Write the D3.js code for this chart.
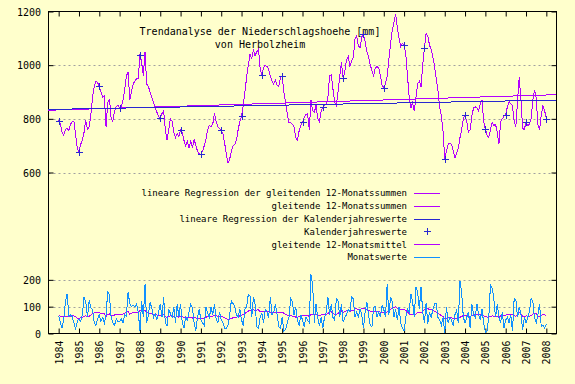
<!DOCTYPE html>
<html>
<head>
<meta charset="utf-8">
<script src="https://cdn.jsdelivr.net/npm/d3@7/dist/d3.min.js"></script>
<style>
    body { margin: 0; background: #ffffcc; }
    svg { display: block; font-family: 'DejaVu Sans Mono', monospace; font-size: 10px; }
</style>
</head>
<body>
<svg id="chart" width="575" height="384"></svg>
<script>
// year ticks on the x axis (also the positions of the calendar-year crosses)
const yearTicks = [1984, 1985, 1986, 1987, 1988, 1989, 1990, 1991, 1992, 1993, 1994, 1995, 1996,
    1997, 1998, 1999, 2000, 2001, 2002, 2003, 2004, 2005, 2006, 2007, 2008]

const yTicks = [0, 100, 200, 600, 800, 1000, 1200]
const gridTicks = [100, 200, 600, 800, 1000]

// Kalenderjahreswerte (mm)
const calendarTotals = [793, 678, 922, 840, 1038, 802, 758, 668, 758, 810, 962, 960, 787,
    844, 952, 1115, 916, 1077, 1064, 652, 815, 761, 816, 788, 800]

// gleitende 12-Monatssummen, monthly from Jan 1984 to Jan 2008 (mm)
const movingSums = [
    795, 780, 750, 740, 760, 765, 755, 780, 790, 790, 740, 690,
    678, 705, 720, 750, 795, 760, 770, 815, 880, 920, 940, 935,
    922, 900, 880, 885, 770, 860, 875, 800, 790, 830, 845, 850,
    840, 845, 870, 910, 960, 975, 870, 900, 930, 940, 950, 950,
    1040, 1010, 960, 1050, 930, 920, 900, 880, 860, 840, 825, 810,
    802, 820, 830, 760, 720, 760, 800, 790, 750, 730, 745, 735,
    758, 750, 720, 700, 715, 690, 720, 690, 725, 700, 680, 670,
    668, 680, 700, 725, 760, 775, 770, 780, 820, 790, 770, 765,
    758, 745, 710, 670, 635, 650, 680, 700, 705, 720, 760, 790,
    810, 850, 900, 955, 1000, 1040, 1025, 1055, 1035, 1050, 1060, 985,
    962, 990, 1000, 995, 985, 960, 940, 930, 945, 925, 920, 955,
    960, 900, 860, 820, 785, 785, 780, 770, 730, 720, 755, 775,
    787, 805, 815, 820, 760, 870, 830, 825, 850, 800, 790, 830,
    844, 850, 855, 880, 960, 965, 910, 860, 850, 900, 960, 1010,
    952, 977, 1020, 1033, 995, 1015, 1030, 1096, 1110, 1071, 1065, 1105,
    1115, 1088, 1051, 1030, 1001, 980, 960, 990, 995, 990, 960, 925,
    916, 930, 960, 1020, 1080, 1130, 1160, 1190, 1140, 1100, 1070, 1080,
    1077, 1040, 960, 880, 840, 860, 830, 880, 930, 940, 920, 1000,
    1064, 1120, 1108, 1075, 1058, 1030, 995, 950, 905, 845, 812, 753,
    652, 680, 705, 710, 705, 680, 655, 670, 690, 730, 760, 800,
    815, 790, 750, 760, 810, 840, 845, 840, 830, 855, 870, 790,
    761, 740, 730, 760, 785, 775, 780, 750, 705, 790, 800, 810,
    816, 845, 865, 855, 850, 790, 770, 870, 955, 870, 765, 760,
    788, 775, 780, 800, 870, 908, 880, 780, 760, 815, 850, 830,
    800
]

// Monatswerte, Jan 1984 to Jan 2008 (mm)
const monthlyValues = [
    65, 40, 22, 50, 120, 148, 65, 70, 62, 40, 15, 45,
    55, 45, 70, 136, 118, 60, 123, 95, 90, 40, 30, 55,
    70, 45, 60, 40, 70, 158, 142, 60, 40, 30, 55, 45,
    45, 55, 40, 70, 65, 155, 110, 100, 105, 100, 110, 80,
    10, 120, 60, 183, 40, 70, 115, 95, 60, 75, 50, 80,
    110, 60, 136, 40, 30, 90, 75, 60, 100, 40, 110, 60,
    110, 40, 20, 60, 50, 80, 110, 95, 40, 10, 60, 90,
    50, 40, 30, 100, 75, 60, 98, 70, 110, 55, 40, 80,
    50, 40, 20, 18, 30, 70, 123, 111, 100, 70, 60, 90,
    50, 30, 90, 100, 146, 140, 60, 136, 110, 25, 20, 60,
    75, 40, 90, 80, 60, 136, 70, 80, 110, 70, 25, 20,
    60, 10, 15, 40, 60, 130, 120, 70, 98, 50, 30, 70,
    50, 25, 60, 50, 40, 220, 180, 40, 110, 60, 30, 60,
    20, 60, 80, 136, 70, 110, 60, 50, 130, 120, 60, 110,
    42, 60, 70, 90, 80, 136, 130, 60, 80, 60, 92, 70,
    20, 80, 117, 70, 30, 25, 98, 100, 60, 80, 60, 105,
    90, 60, 183, 70, 136, 120, 60, 90, 50, 100, 40, 20,
    10, 60, 90, 80, 148, 120, 60, 173, 155, 90, 173, 80,
    40, 115, 36, 80, 60, 90, 110, 110, 60, 50, 30, 60,
    1, 100, 40, 60, 50, 30, 70, 86, 40, 196, 150, 60,
    40, 60, 80, 20, 110, 70, 60, 110, 70, 50, 90, 40,
    5, 10, 60, 180, 170, 130, 60, 110, 60, 40, 80, 20,
    50, 60, 40, 70, 10, 130, 125, 60, 100, 70, 15, 60,
    40, 60, 80, 130, 120, 60, 40, 70, 110, 25, 30, 20,
    36
]

// end points of the two regression lines over the plotted range
const regressionX = [1983.5, 2008.5]
const regressionSums = [832, 890]
const regressionCalendar = [835, 870]

const legendLabels = [
    'lineare Regression der gleitenden 12-Monatssummen',
    'gleitende 12-Monatssummen',
    'lineare Regression der Kalenderjahreswerte',
    'Kalenderjahreswerte',
    'gleitende 12-Monatsmittel',
    'Monatswerte'
]

const MAGENTA = '#b400ff'
const BLUE = '#2828d0'
const LIGHT_BLUE = '#1090ff'

const svg = d3.select('#chart')
const margin = { top: 11.5, right: 18.5, bottom: 50.5, left: 48.5 }
const width = 575
const height = 384

const x = d3.scaleLinear().domain([1983.5, 2008.5]).range([margin.left, width - margin.right])
const y = d3.scaleLinear().domain([0, 1200]).range([height - margin.bottom, margin.top])

const monthX = i => yearTicks[0] + i / 12

// grid
svg.append('g')
    .selectAll('line')
    .data(gridTicks)
    .join('line')
    .attr('x1', x.range()[0])
    .attr('x2', x.range()[1])
    .attr('y1', d => Math.round(y(d)) + 0.5)
    .attr('y2', d => Math.round(y(d)) + 0.5)
    .attr('stroke', '#a0a0a0')
    .attr('stroke-dasharray', '2,3')

// axes with inward ticks, mirrored like gnuplot
const tick = 5
const yLeft = svg.append('g')
    .attr('transform', `translate(${margin.left},0)`)
    .call(d3.axisLeft(y).tickValues(yTicks).tickSize(-tick).tickPadding(7.5).tickFormat(d3.format('d')))
const yRight = svg.append('g')
    .attr('transform', `translate(${width - margin.right},0)`)
    .call(d3.axisRight(y).tickValues(yTicks).tickSize(-tick).tickFormat(''))
const xBottom = svg.append('g')
    .attr('transform', `translate(0,${height - margin.bottom})`)
    .call(d3.axisBottom(x).tickValues(yearTicks).tickSize(-tick).tickFormat(d3.format('d')))
const xTop = svg.append('g')
    .attr('transform', `translate(0,${margin.top})`)
    .call(d3.axisTop(x).tickValues(yearTicks).tickSize(-tick).tickFormat(''))

for (const g of [yLeft, yRight, xBottom, xTop]) {
    g.select('.domain').remove()
    g.selectAll('line').attr('stroke', '#000')
    g.selectAll('text')
        .attr('fill', '#000')
        .style('font-family', "'DejaVu Sans Mono', monospace")
        .style('font-size', '10px')
}
yLeft.selectAll('text').attr('dy', '0.36em')

xBottom.selectAll('text')
    .attr('text-anchor', 'end')
    .attr('dy', null)
    .attr('y', 0)
    .attr('transform', 'translate(3.5,7) rotate(-90)')

// border
svg.append('rect')
    .attr('x', margin.left)
    .attr('y', margin.top)
    .attr('width', x.range()[1] - x.range()[0])
    .attr('height', y.range()[0] - y.range()[1])
    .attr('fill', 'none')
    .attr('stroke', '#000')

// title
svg.append('text')
    .attr('x', 260)
    .attr('y', 35)
    .attr('text-anchor', 'middle')
    .text('Trendanalyse der Niederschlagshoehe [mm]')
svg.append('text')
    .attr('x', 260)
    .attr('y', 48)
    .attr('text-anchor', 'middle')
    .text('von Herbolzheim')

const plot = svg.append('g')
    .style('shape-rendering', 'crispEdges')

const line = d3.line()

// 1. regression of the moving sums
plot.append('path')
    .attr('d', line(regressionX.map((d, i) => [x(d), y(regressionSums[i])])))
    .attr('fill', 'none')
    .attr('stroke', MAGENTA)

// 2. moving 12-month sums
plot.append('path')
    .attr('d', line(movingSums.map((d, i) => [x(monthX(i)), y(d)])))
    .attr('fill', 'none')
    .attr('stroke', MAGENTA)

// 3. regression of the calendar-year totals
plot.append('path')
    .attr('d', line(regressionX.map((d, i) => [x(d), y(regressionCalendar[i])])))
    .attr('fill', 'none')
    .attr('stroke', BLUE)

// 4. calendar-year totals as crosses
const cross = 3.5
plot.append('g')
    .selectAll('path')
    .data(calendarTotals)
    .join('path')
    .attr('d', (d, i) => {
        const cx = Math.round(x(yearTicks[i])) + 0.5
        const cy = Math.round(y(d)) + 0.5
        return `M${cx - cross},${cy}H${cx + cross}M${cx},${cy - cross}V${cy + cross}`
    })
    .attr('stroke', BLUE)

// 5. moving 12-month mean
plot.append('path')
    .attr('d', line(movingSums.map((d, i) => [x(monthX(i)), y(d / 12)])))
    .attr('fill', 'none')
    .attr('stroke', MAGENTA)

// 6. monthly values
plot.append('path')
    .attr('d', line(monthlyValues.map((d, i) => [x(monthX(i)), y(d)])))
    .attr('fill', 'none')
    .attr('stroke', LIGHT_BLUE)

// legend
const legendColors = [MAGENTA, MAGENTA, BLUE, BLUE, MAGENTA, LIGHT_BLUE]
const legendTop = 192.7
const legendStep = 12.9
const legend = svg.append('g')
    .selectAll('g')
    .data(legendLabels)
    .join('g')
    .attr('transform', (d, i) => `translate(0,${legendTop + i * legendStep})`)

legend.append('text')
    .attr('x', 407)
    .attr('dy', '0.36em')
    .attr('text-anchor', 'end')
    .style('font-size', '9px')
    .text(d => d)

legend.append('path')
    .attr('d', (d, i) => i === 3
        ? 'M423.5,0.5H430.5M427,-3V4'
        : 'M414,0.5H440')
    .attr('stroke', (d, i) => legendColors[i])
    .style('shape-rendering', 'crispEdges')
</script>
</body>
</html>
